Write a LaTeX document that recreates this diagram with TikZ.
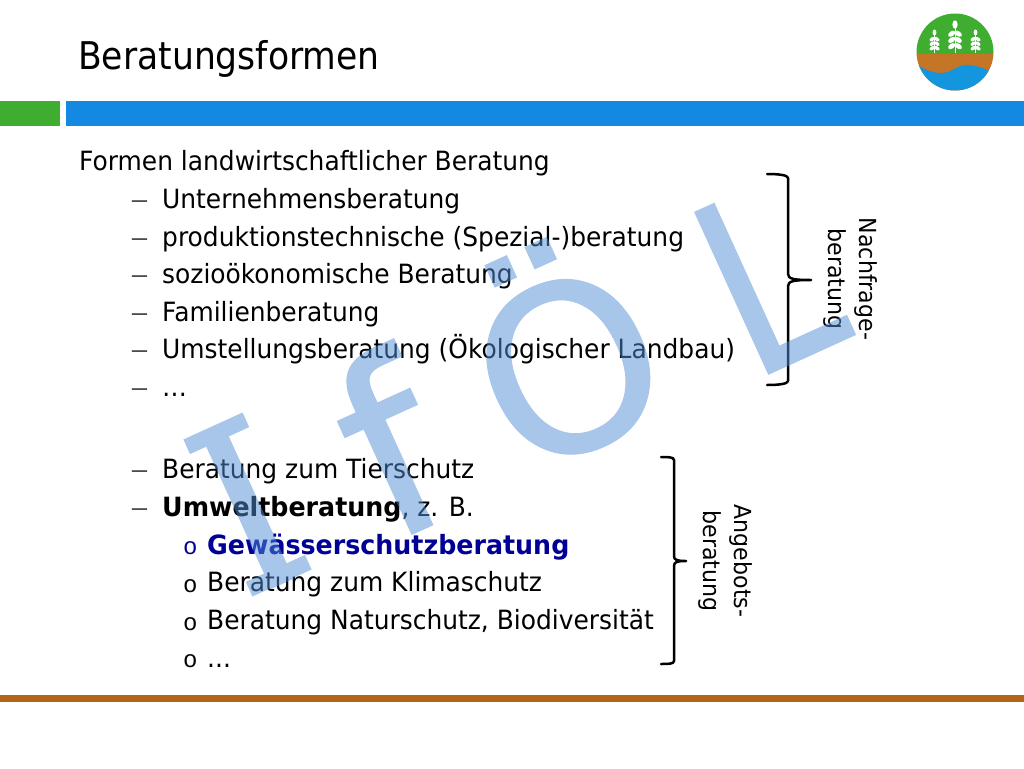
\documentclass[tikz,border=0pt]{standalone}
\usepackage{fontspec}
\setmainfont[FakeStretch=0.94,BoldFeatures={FakeStretch=0.955}]{DejaVu Sans}
\newfontfamily\narrowfont[FakeStretch=0.905]{DejaVu Sans}
\newfontfamily\ringfont{Liberation Mono}
\newfontfamily\markfont[FakeBold=0.8]{DejaVu Sans}
\definecolor{navybold}{RGB}{0,0,150}
\definecolor{barblue}{RGB}{20,137,226}
\definecolor{bargreen}{RGB}{63,174,48}
\definecolor{barbrown}{RGB}{178,100,24}
\definecolor{soil}{RGB}{197,117,38}
\definecolor{water}{RGB}{20,150,222}
\definecolor{wm}{RGB}{83,141,215}
\tikzset{
  body/.style={anchor=base west,inner sep=0pt,font=\fontsize{26.5}{30}\selectfont},
  dashm/.style={anchor=base west,inner sep=0pt,font=\fontsize{18}{30}\selectfont},
  ring/.style={anchor=base west,inner sep=0pt,font=\ringfont\fontsize{24}{30}\selectfont},
  vlabel/.style={inner sep=0pt,rotate=-90,align=center,font=\fontsize{23.5}{31}\selectfont},
  bracket/.style={draw=black,line width=2.5pt,line cap=round,line join=round},
  wmark/.style={inner sep=0pt,anchor=base,text=wm,rotate=24.5,font=\markfont\fontsize{243}{243}\selectfont},
  wheat/.style={white,line width=1pt}
}
\newcommand{\wheatplant}[3]{%
  \begin{scope}[shift={(#1,#2)},scale=#3]
    \draw[wheat] (0,0) -- (0,-21);
    \foreach \yy in {-7,-11.5,-16}{
      \fill[white,rotate around={35:(0,\yy)}] (-2.9,\yy) ellipse (2.9 and 1.8);
      \fill[white,rotate around={-35:(0,\yy)}] (2.9,\yy) ellipse (2.9 and 1.8);
    }
    \fill[white] (0,-21) ellipse (1.9 and 3);
  \end{scope}}
\begin{document}
\begin{tikzpicture}[x=1pt,y=-1pt]
\useasboundingbox (0,0) rectangle (1024,768);
\fill[white] (0,0) rectangle (1024,768);
% bars
\fill[bargreen] (0,101) rectangle (60,126);
\fill[barblue] (66,101) rectangle (1024,126);
\fill[barbrown] (0,695) rectangle (1024,702);
% logo
\begin{scope}
  \clip (955,52) circle (38.5);
  \fill[bargreen] (915,12) rectangle (995,54);
  \fill[soil] (915,54) rectangle (995,95);
  \fill[water] (915,63) .. controls (925,71) and (940,76) .. (950,71) .. controls (958,67) and (962,64) .. (970,65) .. controls (978,66) and (985,69) .. (995,73) -- (995,95) -- (915,95) -- cycle;
\end{scope}
\wheatplant{934.5}{53.5}{1.0}
\wheatplant{955}{53.5}{1.38}
\wheatplant{975.5}{53.5}{1.0}
% title
\node[anchor=base west,inner sep=0pt,font=\narrowfont\fontsize{38.2}{40}\selectfont] (title) at (78,69) {Beratungsformen};
% text
\node[body] (t0) at (79,170) {Formen landwirtschaftlicher Beratung};
\node[dashm] (d1) at (131,206) {—};
\node[body] (t1) at (162,208) {Unternehmensberatung};
\node[dashm] (d2) at (131,244) {—};
\node[body] (t2) at (162,246) {produktionstechnische (Spezial-)beratung};
\node[dashm] (d3) at (131,281) {—};
\node[body] (t3) at (162,283) {sozioökonomische Beratung};
\node[dashm] (d4) at (131,319) {—};
\node[body] (t4) at (162,321) {Familienberatung};
\node[dashm] (d5) at (131,356) {—};
\node[body] (t5) at (162,358) {Umstellungsberatung (Ökologischer Landbau)};
\node[dashm] (d6) at (131,394) {—};
\node[body] (t6) at (162,396) {…};
\node[dashm] (d7) at (131,476) {—};
\node[body] (t7) at (162,478) {Beratung zum Tierschutz};
\node[dashm] (d8) at (131,514) {—};
\node[body] (t8) at (162,516) {\textbf{Umweltberatung}, z. B.};
\node[ring,text=navybold] (o1) at (183,554) {o};
\node[body,text=navybold] (t9) at (207,554) {\textbf{Gewässerschutzberatung}};
\node[ring] (o2) at (183,592) {o};
\node[body] (t10) at (207,591) {Beratung zum Klimaschutz};
\node[ring] (o3) at (183,630) {o};
\node[body] (t11) at (207,629) {Beratung Naturschutz, Biodiversität};
\node[ring] (o4) at (183,667) {o};
\node[body] (t12) at (207,667) {...};
% brackets
\draw[bracket] (767,174) .. controls (778,174) and (788,175) .. (788,178) -- (788,274) .. controls (788,279) and (794,280) .. (811,280) .. controls (794,280) and (788,281) .. (788,286) -- (788,381) .. controls (788,384) and (778,385) .. (767,385);
\draw[bracket] (661,457) .. controls (668,457) and (674,457) .. (674,460) -- (674,556) .. controls (674,560) and (677,561) .. (686,561) .. controls (677,561) and (674,562) .. (674,566) -- (674,661) .. controls (674,664) and (668,664) .. (661,664);
% labels
\node[vlabel] (lab1) at (850,279) {Nachfrage-\\beratung};
\node[vlabel] (lab2) at (725,561) {Angebots-\\beratung};
% watermark
\begin{scope}[transparency group,opacity=0.5]
\node[wmark,font=\markfont\fontsize{233}{233}\selectfont] (wi) at (282,583) {I};
\fill[wm] (252.4,596.5) -- (311.6,569.5) -- (305,554.9) -- (245.8,581.9) -- cycle;
\fill[wm] (183.4,439.5) -- (242.6,412.5) -- (249.2,427.1) -- (190,454.1) -- cycle;
\node[wmark] (wf) at (427,527) {f};
\node[wmark,font=\markfont\fontsize{230}{230}\selectfont] (wo) at (603,443) {Ö};
\node[wmark,xscale=0.86] (wl) at (803,358) {L};
\end{scope}
\end{tikzpicture}
\end{document}
